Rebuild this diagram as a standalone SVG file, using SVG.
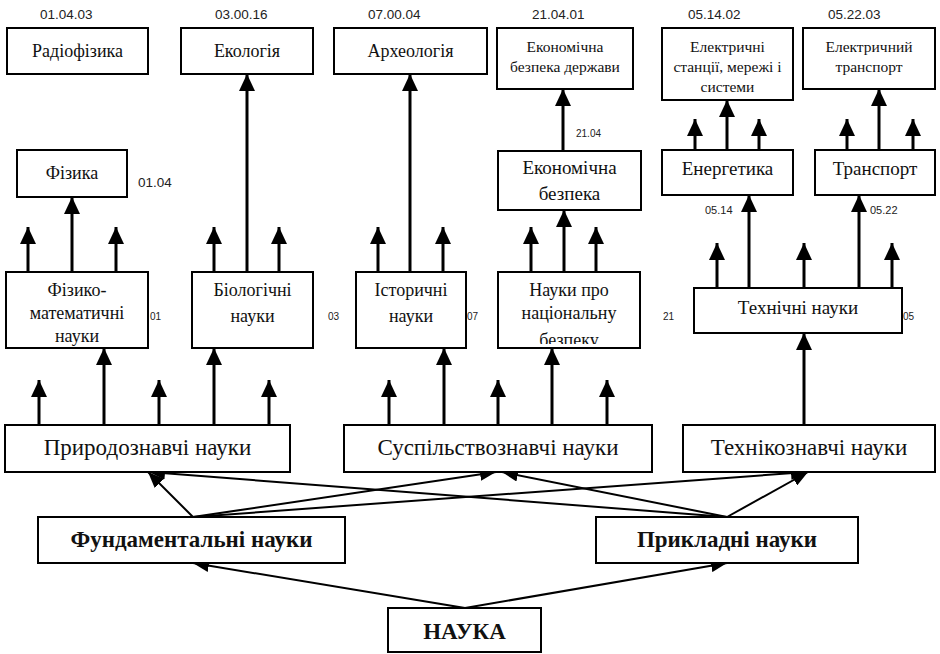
<svg xmlns="http://www.w3.org/2000/svg" width="940" height="654" viewBox="0 0 940 654">
  <style>
    .box { fill: #fff; stroke: #000; stroke-width: 2; }
    .t { fill: #111; text-anchor: middle; }
    .s15 { font-size: 15.5px; }
    .s17 { font-size: 18px; }
    .s18 { font-size: 19px; }
    .s21 { font-size: 23px; }
    .b20 { font-size: 23px; font-weight: bold; }
    .code { fill: #222; }
    .c14 { font-size: 13.5px; }
    .c11 { font-size: 11px; }
    .c10 { font-size: 10px; }
    .up { stroke: #000; stroke-width: 3; fill: none; marker-end: url(#bigHead); }
    .diag { stroke: #000; stroke-width: 2; fill: none; marker-end: url(#smallHead); }
  </style>
  <defs>
    <marker id="bigHead" markerUnits="userSpaceOnUse" markerWidth="18" markerHeight="16" refX="17" refY="8" orient="auto" viewBox="0 0 18 16">
      <path d="M0,0 L17,8 L0,16 z" fill="#000"/>
    </marker>
    <marker id="smallHead" markerUnits="userSpaceOnUse" markerWidth="17" markerHeight="13" refX="16" refY="6.5" orient="auto" viewBox="0 0 17 13">
      <path d="M0,0 L16,6.5 L0,13 z" fill="#000"/>
    </marker>
    <clipPath id="clipNational">
      <rect x="498" y="272" width="142" height="72"/>
    </clipPath>
  </defs>

  <!-- connectors -->
  <g id="connectors">
    <!-- branch level 2 -> subjects -->
    <line class="up" x1="72" y1="272" x2="72" y2="197"/>
    <line class="up" x1="28" y1="272" x2="28" y2="227"/>
    <line class="up" x1="116" y1="272" x2="116" y2="227"/>
    <line class="up" x1="247" y1="272" x2="247" y2="74"/>
    <line class="up" x1="214" y1="272" x2="214" y2="227"/>
    <line class="up" x1="279" y1="272" x2="279" y2="227"/>
    <line class="up" x1="410" y1="272" x2="410" y2="74"/>
    <line class="up" x1="378" y1="272" x2="378" y2="227"/>
    <line class="up" x1="443" y1="272" x2="443" y2="227"/>
    <line class="up" x1="564" y1="272" x2="564" y2="210"/>
    <line class="up" x1="531" y1="272" x2="531" y2="227"/>
    <line class="up" x1="596" y1="272" x2="596" y2="227"/>
    <line class="up" x1="563" y1="151" x2="563" y2="89"/>
    <line class="up" x1="749" y1="288" x2="749" y2="195"/>
    <line class="up" x1="859" y1="288" x2="859" y2="195"/>
    <line class="up" x1="717" y1="288" x2="717" y2="243"/>
    <line class="up" x1="804" y1="288" x2="804" y2="243"/>
    <line class="up" x1="892" y1="288" x2="892" y2="243"/>
    <line class="up" x1="727" y1="150" x2="727" y2="100"/>
    <line class="up" x1="695" y1="150" x2="695" y2="119"/>
    <line class="up" x1="759" y1="150" x2="759" y2="119"/>
    <line class="up" x1="879" y1="150" x2="879" y2="89"/>
    <line class="up" x1="847" y1="150" x2="847" y2="119"/>
    <line class="up" x1="913" y1="150" x2="913" y2="119"/>
    <!-- branch level 1 -> level 2 -->
    <line class="up" x1="39" y1="425" x2="39" y2="380"/>
    <line class="up" x1="104" y1="425" x2="104" y2="348"/>
    <line class="up" x1="159" y1="425" x2="159" y2="380"/>
    <line class="up" x1="214" y1="425" x2="214" y2="348"/>
    <line class="up" x1="269" y1="425" x2="269" y2="380"/>
    <line class="up" x1="389" y1="425" x2="389" y2="380"/>
    <line class="up" x1="444" y1="425" x2="444" y2="348"/>
    <line class="up" x1="498" y1="425" x2="498" y2="380"/>
    <line class="up" x1="552" y1="425" x2="552" y2="348"/>
    <line class="up" x1="607" y1="425" x2="607" y2="380"/>
    <line class="up" x1="804" y1="425" x2="804" y2="333"/>
    <!-- fundamental / applied -> groups -->
    <line class="diag" x1="193" y1="517" x2="148" y2="472"/>
    <line class="diag" x1="193" y1="517" x2="496" y2="472"/>
    <line class="diag" x1="193" y1="517" x2="807" y2="472"/>
    <line class="diag" x1="727" y1="517" x2="149" y2="472"/>
    <line class="diag" x1="727" y1="517" x2="502" y2="472"/>
    <line class="diag" x1="727" y1="517" x2="808" y2="472"/>
    <!-- root -> fundamental / applied -->
    <line class="diag" x1="465" y1="608" x2="193" y2="563"/>
    <line class="diag" x1="465" y1="608" x2="727" y2="563"/>
  </g>

  <!-- subject codes -->
  <g id="codes" font-family="'Liberation Sans', Arial, sans-serif">
    <text class="code c14" x="40" y="19">01.04.03</text>
    <text class="code c14" x="215" y="19">03.00.16</text>
    <text class="code c14" x="368" y="19">07.00.04</text>
    <text class="code c14" x="532" y="19">21.04.01</text>
    <text class="code c14" x="688" y="19">05.14.02</text>
    <text class="code c14" x="828" y="19">05.22.03</text>
    <text class="code c14" x="138" y="187">01.04</text>
    <text class="code c10" x="576" y="137">21.04</text>
    <text class="code c11" x="705" y="214">05.14</text>
    <text class="code c11" x="870" y="214">05.22</text>
    <text class="code c10" x="150" y="320">01</text>
    <text class="code c10" x="328" y="320">03</text>
    <text class="code c10" x="467" y="320">07</text>
    <text class="code c10" x="663" y="320">21</text>
    <text class="code c10" x="903" y="320">05</text>
  </g>

  <g id="nodes" font-family="'Liberation Serif', 'Times New Roman', serif">
  <!-- top row -->
  <g id="radiophysics">
    <rect class="box" x="7" y="28" width="141" height="46"/>
    <text class="t s17" x="77.5" y="57">Радіофізика</text>
  </g>
  <g id="ecology">
    <rect class="box" x="181" y="28" width="132" height="46"/>
    <text class="t s17" x="247" y="57">Екологія</text>
  </g>
  <g id="archaeology">
    <rect class="box" x="334" y="28" width="153" height="46"/>
    <text class="t s17" x="410.5" y="57">Археологія</text>
  </g>
  <g id="state-economic-security">
    <rect class="box" x="497" y="28" width="136" height="61"/>
    <text class="t s15" x="565" y="52">Економічна</text>
    <text class="t s15" x="565" y="72">безпека держави</text>
  </g>
  <g id="power-stations">
    <rect class="box" x="662" y="28" width="131" height="72"/>
    <text class="t s15" x="727.5" y="52">Електричні</text>
    <text class="t s15" x="727.5" y="72">станції, мережі і</text>
    <text class="t s15" x="727.5" y="92">системи</text>
  </g>
  <g id="electric-transport">
    <rect class="box" x="803" y="28" width="132" height="61"/>
    <text class="t s15" x="869" y="52">Електричний</text>
    <text class="t s15" x="869" y="72">транспорт</text>
  </g>

  <!-- second row -->
  <g id="physics">
    <rect class="box" x="17" y="150" width="110" height="47"/>
    <text class="t s17" x="72" y="179">Фізика</text>
  </g>
  <g id="economic-security">
    <rect class="box" x="498" y="151" width="143" height="59"/>
    <text class="t s18" x="569.5" y="174">Економічна</text>
    <text class="t s18" x="569.5" y="200">безпека</text>
  </g>
  <g id="energy">
    <rect class="box" x="662" y="150" width="131" height="45"/>
    <text class="t s18" x="727.5" y="175">Енергетика</text>
  </g>
  <g id="transport">
    <rect class="box" x="815" y="150" width="120" height="45"/>
    <text class="t s18" x="875" y="175">Транспорт</text>
  </g>

  <!-- branches -->
  <g id="phys-math">
    <rect class="box" x="6" y="272" width="142" height="76"/>
    <text class="t s17" x="77" y="296">Фізико-</text>
    <text class="t s17" x="77" y="319">математичні</text>
    <text class="t s17" x="77" y="342">науки</text>
  </g>
  <g id="biology">
    <rect class="box" x="192" y="272" width="121" height="76"/>
    <text class="t s17" x="252.5" y="296">Біологічні</text>
    <text class="t s17" x="252.5" y="322">науки</text>
  </g>
  <g id="history">
    <rect class="box" x="356" y="272" width="110" height="76"/>
    <text class="t s17" x="411" y="296">Історичні</text>
    <text class="t s17" x="411" y="322">науки</text>
  </g>
  <g id="national-security">
    <rect class="box" x="498" y="272" width="142" height="76"/>
    <g clip-path="url(#clipNational)">
      <text class="t s17" x="569" y="296">Науки про</text>
      <text class="t s17" x="569" y="319">національну</text>
      <text class="t s17" x="569" y="346">безпеку</text>
    </g>
  </g>
  <g id="technical">
    <rect class="box" x="694" y="288" width="208" height="45"/>
    <text class="t s18" x="798" y="314">Технічні науки</text>
  </g>

  <!-- groups -->
  <g id="natural">
    <rect class="box" x="5" y="425" width="285" height="47"/>
    <text class="t s21" x="147.5" y="455">Природознавчі науки</text>
  </g>
  <g id="social">
    <rect class="box" x="344" y="425" width="308" height="47"/>
    <text class="t s21" x="498" y="455">Суспільствознавчі науки</text>
  </g>
  <g id="engineering">
    <rect class="box" x="683" y="425" width="252" height="47"/>
    <text class="t s21" x="809" y="455">Технікознавчі науки</text>
  </g>

  <!-- basic split -->
  <g id="fundamental">
    <rect class="box" x="38" y="517" width="307" height="46"/>
    <text class="t b20" x="191.5" y="547">Фундаментальні науки</text>
  </g>
  <g id="applied">
    <rect class="box" x="596" y="517" width="262" height="46"/>
    <text class="t b20" x="727" y="547">Прикладні науки</text>
  </g>
  <g id="science">
    <rect class="box" x="388" y="608" width="153" height="44"/>
    <text class="t b20" x="464.5" y="639">НАУКА</text>
  </g>
  </g>
</svg>
